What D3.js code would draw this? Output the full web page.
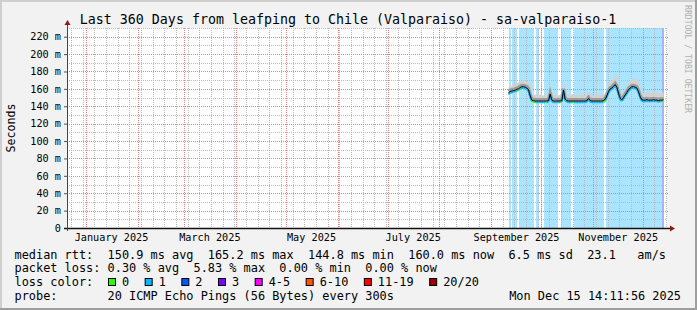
<!DOCTYPE html>
<html>
<head>
<meta charset="utf-8">
<script src="https://cdn.jsdelivr.net/npm/d3@7"></script>
<style>
body { margin: 0; background: #f2f2f2; }
svg text { font-family: "DejaVu Sans Mono", monospace; white-space: pre; }
</style>
</head>
<body>
<svg id="chart" width="697" height="310"></svg>
<script>
// time window of the graph (360 days)
var startTime = new Date(2024, 11, 20, 14, 11, 56);
var endTime = new Date(2025, 11, 15, 14, 11, 56);
var firstDay = new Date(2025, 8, 11, 12, 0, 0); // first daily sample

var yTicks = [0, 20, 40, 60, 80, 100, 120, 140, 160, 180, 200, 220];
var yMinor = [10, 30, 50, 70, 90, 110, 130, 150, 170, 190, 210, 230];
var monthLabels = ["January 2025", "March 2025", "May 2025", "July 2025", "September 2025", "November 2025"];
var labelMonths = [0, 2, 4, 6, 8, 10];

// median rtt in ms, one per day from Sep 11
var median = [155.5,157,157.5,158,158.5,159.5,160,161.5,162.5,162.5,
  162,161,159,152,147,146.5,146,146,146,146,
  146,146,146,146,146.5,154,147,146,146,146,
  146,146,146.5,158.5,148,146.5,146,146,146,146,
  146,146,146,146,146,146,146,146.5,149,146.5,
  146,146,146,146,146,146,146,146.5,148,152,
  157,160,161,163,165,162,155,149,147.5,150,
  153,156,159,161,162.5,162.5,162,161,157,151,
  147.5,147,147,147.5,147,147,147,147.5,147,147,
  146.5,147,147,147.5];

var smokeHi = [162,164,165,164,166,167,168,168,169,170,
  169,168,166,162,154,153,154,152.5,153,154,
  152.5,153,154,153,154,162,155,153,154,152.5,
  153,154,154,166,156,154,153,153.5,154,153,
  152.5,154,153,153,154.5,153,153,154,156,154,
  153,152.5,154,153,153,154,153,154,156,161,
  166,169,170,173,178,174,165,158,155,158,
  162,165,168,170,172,172,171,170,166,160,
  155,155,156,158,155,155,157,156,155,156,
  155,155,156,155];

var smokeLo = [152.5,154,154.5,155,155.5,156.5,157,158.5,159.5,159.5,
  159,158,155.5,148,144.5,144,143.5,143.5,143.5,143.5,
  143.5,143.5,143.5,143.5,144,150,144.5,143.5,143.5,143.5,
  143.5,143.5,144,154,145,144,143.5,143.5,143.5,143.5,
  143.5,143.5,143.5,143.5,143.5,143.5,143.5,144,146,144,
  143.5,143.5,143.5,143.5,143.5,143.5,143.5,144,145.5,149,
  153.5,156.5,157.5,159.5,161,158,151,146,145,147,
  150,153,156,158,159.5,159.5,159,158,153.5,148,
  145,144.5,144.5,145,144.5,144.5,144.5,145,144.5,144.5,
  144,144.5,144.5,145];

var lossCount = [1,1,1,1,1,0,0,1,1,1,
  1,1,1,1,0,0,1,1,1,1,
  1,1,0,1,1,1,1,1,1,1,
  1,0,1,1,1,1,1,1,0,1,
  1,1,1,1,1,1,1,1,1,1,
  1,1,1,1,1,1,1,0,1,1,
  1,1,1,1,1,1,1,1,1,1,
  1,1,1,1,1,1,1,1,1,1,
  1,1,1,1,1,1,1,1,1,1,
  1,1,0,0];

// light blue background periods
var blueBands = [
  ["2025-09-11T19:00", "2025-09-12T18:00"],
  ["2025-09-13T08:00", "2025-09-16T10:00"],
  ["2025-09-17T19:00", "2025-09-27T02:00"],
  ["2025-09-27T19:00", "2025-09-30T02:00"],
  ["2025-10-01T00:00", "2025-10-01T14:00"],
  ["2025-10-02T19:00", "2025-10-11T10:00"],
  ["2025-10-12T19:00", "2025-10-18T19:00"],
  ["2025-10-20T12:00", "2025-11-08T00:00"],
  ["2025-11-09T00:00", "2025-12-12T14:00"]
];
var lastBand = ["2025-12-12T14:00", "2025-12-13T19:00"];

var lossNames = ["0", "1", "2", "3", "4-5", "6-10", "11-19", "20/20"];
var lossColors = ["#26ff00", "#00b8ff", "#0059ff", "#7e00ff", "#ff00ff", "#ff5500", "#ff0000", "#a10000"];

var rttStats = ["150.9 ms avg", "165.2 ms max", "144.8 ms min", "160.0 ms now", "6.5 ms sd", "23.1   am/s"];
var lossStats = ["0.30 % avg", "5.83 % max", "0.00 % min", "0.00 % now"];
var probeText = "20 ICMP Echo Pings (56 Bytes) every 300s";
var stampText = "Mon Dec 15 14:11:56 2025";
var titleText = "Last 360 Days from leafping to Chile (Valparaiso) - sa-valparaiso-1";

var margin = { left: 67, right: 30, top: 28, bottom: 82 };
var W = 697, H = 310;

var svg = d3.select("#chart");

var x = d3.scaleTime().domain([startTime, endTime]).range([margin.left, W - margin.right]);
var y = d3.scaleLinear().domain([0, 230]).range([H - margin.bottom, margin.top]);

var x0 = margin.left, x1 = W - margin.right;
var yb = H - margin.bottom, yt = margin.top;

// background + frame
svg.append("rect").attr("width", W).attr("height", H).attr("fill", "#f2f2f2");
svg.append("rect").attr("x", 0).attr("y", 0).attr("width", W).attr("height", 2).attr("fill", "#cfcfcf");
svg.append("rect").attr("x", 0).attr("y", 0).attr("width", 2).attr("height", H).attr("fill", "#cfcfcf");
svg.append("rect").attr("x", 0).attr("y", H - 2).attr("width", W).attr("height", 2).attr("fill", "#9e9e9e");
svg.append("rect").attr("x", W - 2).attr("y", 0).attr("width", 2).attr("height", H).attr("fill", "#9e9e9e");

svg.append("rect").attr("x", x0).attr("y", yt).attr("width", x1 - x0).attr("height", yb - yt).attr("fill", "#ffffff");

// blue bands
svg.append("g").attr("shape-rendering", "crispEdges")
  .selectAll("rect").data(blueBands).enter().append("rect")
  .attr("x", function(d) { return Math.round(x(new Date(d[0]))); })
  .attr("width", function(d) { return Math.max(1, Math.round(x(new Date(d[1]))) - Math.round(x(new Date(d[0])))); })
  .attr("y", yt).attr("height", yb - yt)
  .attr("fill", "#aae4ff");
svg.append("rect").attr("shape-rendering", "crispEdges")
  .attr("x", Math.round(x(new Date(lastBand[0]))))
  .attr("width", Math.round(x(new Date(lastBand[1]))) - Math.round(x(new Date(lastBand[0]))))
  .attr("y", yt).attr("height", yb - yt)
  .attr("fill", "#a4b6f6");

// grid (dotted, 1px)
var minorCol = "#bababa", majorCol = "#e68282";
var grid = svg.append("g");
function hline(sel, vals, col, xa, xb) {
  sel.selectAll(null).data(vals).enter().append("line")
    .attr("x1", xa).attr("x2", xb)
    .attr("y1", function(d) { return Math.round(y(d)) + 0.5; })
    .attr("y2", function(d) { return Math.round(y(d)) + 0.5; })
    .attr("stroke", col).attr("stroke-width", 1).attr("stroke-dasharray", "1,1");
}
function vline(sel, vals, col, ya, yz) {
  sel.selectAll(null).data(vals).enter().append("line")
    .attr("x1", function(d) { return Math.round(x(d)) + 0.5; })
    .attr("x2", function(d) { return Math.round(x(d)) + 0.5; })
    .attr("y1", ya).attr("y2", yz)
    .attr("stroke", col).attr("stroke-width", 1).attr("stroke-dasharray", "1,1");
}
hline(grid, yMinor, minorCol, x0, x1);
vline(grid, d3.timeMonday.range(startTime, endTime), minorCol, yt, yb);
hline(grid, yTicks.slice(1), majorCol, x0, x1 + 2);
vline(grid, d3.timeMonth.range(startTime, endTime), majorCol, yt, yb + 2);

// smoke + median
var days = median.map(function(v, i) { return d3.timeDay.offset(firstDay, i); });

var smokeArea = d3.area()
  .x(function(d, i) { return x(days[i]); })
  .y0(function(d, i) { return y(smokeLo[i]); })
  .y1(function(d, i) { return y(smokeHi[i]); })
  .curve(d3.curveStepAfter);
svg.append("path").datum(median).attr("d", smokeArea).attr("fill", "#d2d2d2");

var medLine = d3.line()
  .x(function(d, i) { return x(days[i]); })
  .y(function(d) { return y(d); });
svg.append("path").datum(median).attr("d", medLine)
  .attr("fill", "none").attr("stroke", "#9c9c9c").attr("stroke-width", 3)
  .attr("transform", "translate(0,-1.5)");

// loss coloured median segments
var segs = d3.range(median.length - 1);
svg.append("g").selectAll("line").data(segs).enter().append("line")
  .attr("x1", function(i) { return x(days[i]); })
  .attr("x2", function(i) { return x(days[i + 1]); })
  .attr("y1", function(i) { return y(median[i]) + 1.3; })
  .attr("y2", function(i) { return y(median[i + 1]) + 1.3; })
  .attr("stroke", function(i) { return lossColors[lossCount[i]]; })
  .attr("stroke-width", 1.8);

svg.append("path").datum(median).attr("d", medLine)
  .attr("fill", "none").attr("stroke", "#000").attr("stroke-width", 1);

// axes
var yAxis = d3.axisLeft(y).tickValues(yTicks).tickSize(3).tickPadding(3)
  .tickFormat(function(d) { return d === 0 ? "0" : d + " m"; });
var gy = svg.append("g").attr("transform", "translate(" + x0 + ",0)").call(yAxis);
gy.select(".domain").remove();
gy.selectAll("line").attr("stroke", "#555");
gy.selectAll("text").attr("font-size", "10.2px").attr("fill", "#000")
  .attr("font-family", "DejaVu Sans Mono");

var labelDates = labelMonths.map(function(m) { return new Date(2025, m, 16); });
var xAxis = d3.axisBottom(x).tickValues(labelDates).tickSize(0).tickPadding(6)
  .tickFormat(function(d, i) { return monthLabels[i]; });
var gx = svg.append("g").attr("transform", "translate(0," + yb + ")").call(xAxis);
gx.select(".domain").remove();
gx.selectAll("text").attr("font-size", "10.2px").attr("fill", "#000")
  .attr("font-family", "DejaVu Sans Mono");

// axis lines and arrows
svg.append("line").attr("x1", x0 - 3).attr("x2", x1 + 5).attr("y1", yb + 0.5).attr("y2", yb + 0.5)
  .attr("stroke", "#111").attr("stroke-width", 1.3);
svg.append("line").attr("x1", x0 + 0.5).attr("x2", x0 + 0.5).attr("y1", yb + 3).attr("y2", yt - 5)
  .attr("stroke", "#444").attr("stroke-width", 1);
svg.append("path").attr("d", "M" + (x0 - 2.5) + "," + (yt - 3) + "L" + (x0 + 3.5) + "," + (yt - 3) + "L" + (x0 + 0.5) + "," + (yt - 8) + "Z")
  .attr("fill", "#8b1a1a");
svg.append("path").attr("d", "M" + (x1 + 3) + "," + (yb - 2.5) + "L" + (x1 + 3) + "," + (yb + 3.5) + "L" + (x1 + 8) + "," + (yb + 0.5) + "Z")
  .attr("fill", "#8b1a1a");

// title and labels
svg.append("text").attr("x", 348).attr("y", 24).attr("text-anchor", "middle")
  .attr("font-size", "13.3px").attr("fill", "#000").text(titleText);
svg.append("text").attr("transform", "translate(15,128) rotate(-90)").attr("text-anchor", "middle")
  .attr("font-size", "11.6px").attr("fill", "#000").text("Seconds");
svg.append("text").attr("transform", "translate(685,5) rotate(90)")
  .attr("font-size", "8.6px").attr("fill", "#b0b0b0")
  .attr("textLength", 108).attr("lengthAdjust", "spacingAndGlyphs")
  .text("RRDTOOL / TOBI OETIKER");

// legend
var lx = 14.5, fs = "11.9px";
var legend = svg.append("g").attr("font-size", fs).attr("fill", "#000");
legend.append("text").attr("x", lx).attr("y", 258.5)
  .text("median rtt:  " + rttStats.slice(0, 4).join("  ") + "  " + rttStats.slice(4).join("  "));
legend.append("text").attr("x", lx).attr("y", 272)
  .text("packet loss: " + lossStats.join("  "));
legend.append("text").attr("x", lx).attr("y", 286).text("loss color:");
legend.append("text").attr("x", lx).attr("y", 300).text("probe:       " + probeText);
legend.append("text").attr("x", 681).attr("y", 300).attr("text-anchor", "end").text(stampText);

var sx = 108;
lossNames.forEach(function(name, i) {
  legend.append("rect").attr("x", sx + 0.5).attr("y", 278.5).attr("width", 7).attr("height", 7)
    .attr("fill", lossColors[i]).attr("stroke", "#000").attr("stroke-width", 1);
  legend.append("text").attr("x", sx + 14).attr("y", 286).text(name);
  sx += 29.5 + name.length * 7.167;
});
</script>
</body>
</html>
